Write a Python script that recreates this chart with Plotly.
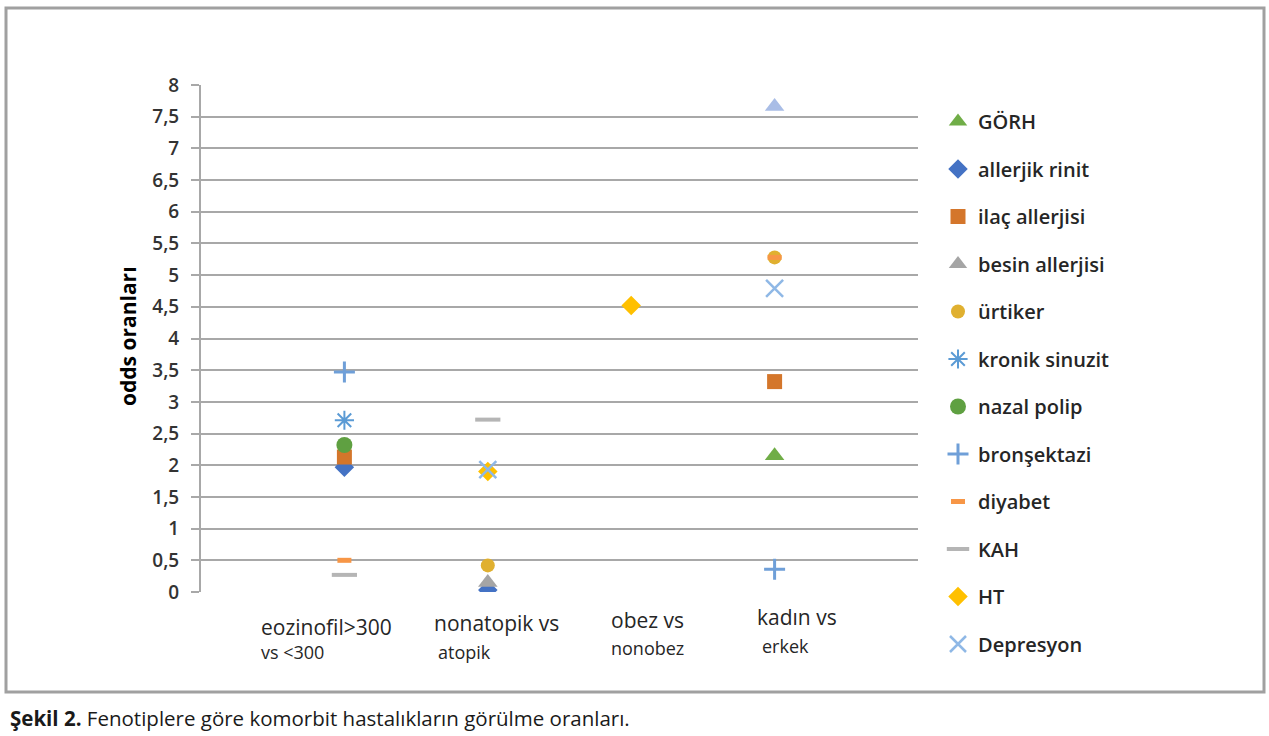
import plotly.graph_objects as go

# ---- data ----
category_pos = [1, 2, 3, 4]
category_line1 = ["eozinofil>300", "nonatopik vs", "obez vs", "kadın vs"]
category_line2 = ["vs <300", "atopik", "nonobez", "erkek"]

y_tickvals = [0, 0.5, 1, 1.5, 2, 2.5, 3, 3.5, 4, 4.5, 5, 5.5, 6, 6.5, 7, 7.5, 8]
y_ticktext = ["0", "0,5", "1", "1,5", "2", "2,5", "3", "3,5", "4", "4,5", "5", "5,5", "6", "6,5", "7", "7,5", "8"]

series_names = ["GÖRH", "allerjik rinit", "ilaç allerjisi", "besin allerjisi", "ürtiker",
                "kronik sinuzit", "nazal polip", "bronşektazi", "diyabet", "KAH", "HT", "Depresyon"]

gorh = [None, None, None, 2.15]
allerjik_rinit = [1.97, 0.03, None, None]
ilac_allerjisi = [2.13, None, None, 3.32]
besin_allerjisi = [None, 0.15, None, None]
urtiker = [None, 0.42, None, 5.28]
kronik_sinuzit = [2.71, None, None, None]
nazal_polip = [2.32, None, None, None]
bronsektazi = [3.47, None, None, 0.36]
diyabet = [0.5, None, None, 5.28]
kah = [0.27, 2.72, None, None]
ht = [None, 1.9, 4.52, None]
depresyon = [None, 1.93, None, 4.79]
unlabeled = [None, None, None, 7.66]

y_title = "odds oranları"
caption_bold = "Şekil 2."
caption_rest = " Fenotiplere göre komorbit hastalıkların görülme oranları."

# ---- styles ----
styles = [
    dict(symbol="triangle-up", color="#70ad47", size=17),
    dict(symbol="diamond", color="#4472c4", size=15),
    dict(symbol="square", color="#d4762b", size=15),
    dict(symbol="triangle-up", color="#a5a5a5", size=17),
    dict(symbol="circle", color="#e0b030", size=14),
    dict(symbol="asterisk-open", color="#5b9bd5", size=16, lw=2),
    dict(symbol="circle", color="#5fa041", size=16),
    dict(symbol="cross-thin-open", color="#6f9fd8", size=15, lw=3),
    dict(symbol="line-ew-open", color="#f79646", size=10, lw=5),
    dict(symbol="line-ew-open", color="#b5b5b5", size=18, lw=4),
    dict(symbol="diamond", color="#ffc000", size=15),
    dict(symbol="x-thin-open", color="#8fb8e6", size=17, lw=2.5),
]
all_series = [gorh, allerjik_rinit, ilac_allerjisi, besin_allerjisi, urtiker, kronik_sinuzit,
              nazal_polip, bronsektazi, diyabet, kah, ht, depresyon]

FONT = "Open Sans"
W, H = 1269, 736
L, R, T, B = 201, 918, 85, 592
pw, ph = R - L, B - T


def px(x):
    return (x - L) / pw


def py(y):
    return (B - y) / ph


fig = go.Figure()
for i, (name, vals, st) in enumerate(zip(series_names, all_series, styles)):
    marker = dict(symbol=st["symbol"], size=st["size"], color=st["color"])
    if "lw" in st:
        marker["line"] = dict(color=st["color"], width=st["lw"])
    else:
        marker["line"] = dict(width=0)
    fig.add_trace(go.Scatter(x=category_pos, y=vals, mode="markers", name=name,
                             marker=marker, legendgroup=f"g{i}"))

fig.add_trace(go.Scatter(x=category_pos, y=unlabeled, mode="markers", showlegend=False,
                         marker=dict(symbol="triangle-up", size=17, color="#a9bde6", line=dict(width=0))))

anns = []
shift1 = [-85, -56, -22, -20]
shift2 = [-85, -52, -22, -15]
yl1 = [627, 623, 620, 617]
yl2 = [652, 652, 648, 646]
for i, c in enumerate(category_pos):
    anns.append(dict(x=c, xref="x", y=py(yl1[i]), yref="paper", text=category_line1[i],
                     xanchor="left", yanchor="middle", xshift=shift1[i], showarrow=False,
                     font=dict(family=FONT, size=21, color="#262626")))
    anns.append(dict(x=c, xref="x", y=py(yl2[i]), yref="paper", text=category_line2[i],
                     xanchor="left", yanchor="middle", xshift=shift2[i], showarrow=False,
                     font=dict(family=FONT, size=18, color="#262626")))

anns.append(dict(x=px(128), xref="paper", y=py(336), yref="paper", text=f"<b>{y_title}</b>",
                 textangle=-90, showarrow=False, xanchor="center", yanchor="middle",
                 font=dict(family=FONT, size=21, color="#000000")))
anns.append(dict(x=px(8), xref="paper", y=py(718), yref="paper",
                 text=f"<b>{caption_bold}</b>{caption_rest}", showarrow=False,
                 xanchor="left", yanchor="middle",
                 font=dict(family=FONT, size=20.5, color="#1a1a1a")))

fig.update_layout(
    width=W, height=H,
    margin=dict(l=L, r=W - R, t=T, b=H - B, autoexpand=False),
    paper_bgcolor="white", plot_bgcolor="white",
    showlegend=True,
    legend=dict(x=px(938), y=py(102), xanchor="left", yanchor="top",
                font=dict(family=FONT, size=20, color="#262626", weight=600),
                tracegroupgap=18.5, itemsizing="trace", bgcolor="rgba(0,0,0,0)",
                maxheight=680),
    annotations=anns,
    shapes=[dict(type="rect", xref="paper", yref="paper", x0=px(6), x1=px(1264),
                 y0=py(692), y1=py(8), line=dict(color="#a0a0a0", width=3),
                 fillcolor="rgba(0,0,0,0)", layer="below")],
    xaxis=dict(range=[0, 5], showgrid=False, zeroline=False, showticklabels=False,
               showline=False, ticks=""),
    yaxis=dict(range=[0, 8], tickvals=y_tickvals, ticktext=y_ticktext,
               showgrid=True, gridcolor="#a8a8a8", gridwidth=2, zeroline=False,
               showline=True, linecolor="#a8a8a8", linewidth=2,
               ticks="outside", ticklen=8, tickcolor="#a8a8a8", tickwidth=2,
               ticklabelstandoff=8,
               tickfont=dict(family=FONT, size=19, color="#333333", weight=600)),
)

fig.write_html("out.html", config={"displayModeBar": False},
               post_script="document.body.style.margin='0';")
